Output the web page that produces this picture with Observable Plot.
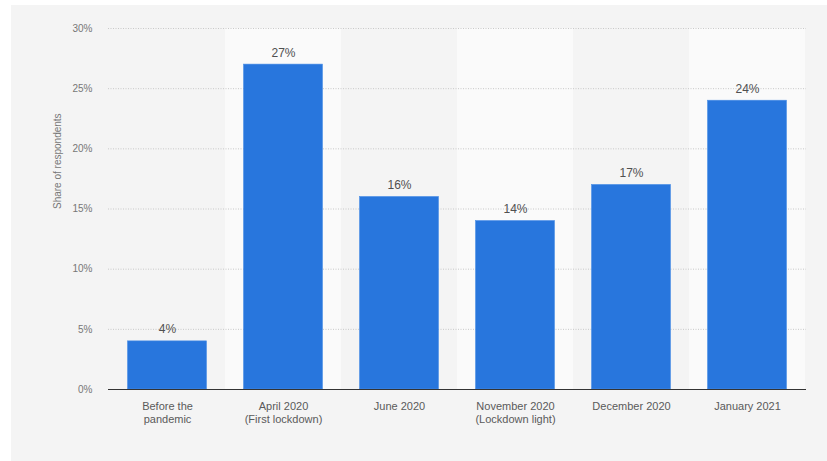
<!DOCTYPE html>
<html>
<head>
<meta charset="utf-8">
<script src="https://cdn.jsdelivr.net/npm/d3@7"></script>
<script src="https://cdn.jsdelivr.net/npm/@observablehq/plot@0.6"></script>
<style>
  html, body { margin: 0; padding: 0; background: #ffffff; }
  #panel { position: absolute; left: 11px; top: 5px; width: 816px; height: 456px; background: #f4f4f4; }
  #panel svg { background: transparent; font-family: "Liberation Sans", Arial, sans-serif; }
</style>
</head>
<body>
<div id="panel"></div>
<script>
const categories = ["Before the\npandemic", "April 2020\n(First lockdown)", "June 2020", "November 2020\n(Lockdown light)", "December 2020", "January 2021"];
const values = [4, 27, 16, 14, 17, 24];
const yTicks = [0, 5, 10, 15, 20, 25, 30];
const yTitle = "Share of respondents";

const data = categories.map((c, i) => ({category: c, value: values[i]}));
const lightBands = categories.filter((c, i) => i % 2 === 1);

const chart = Plot.plot({
  width: 816,
  height: 456,
  marginLeft: 97,
  marginRight: 21,
  marginTop: 23,
  marginBottom: 72,
  style: {background: "transparent", fontFamily: "Liberation Sans, Arial, sans-serif"},
  x: {domain: categories, padding: 0},
  y: {domain: [0, 30]},
  marks: [
    Plot.cell(lightBands, {x: d => d, fill: "#fafafa", inset: 0}),
    Plot.ruleY(yTicks.filter(t => t > 0), {stroke: "#c8c8c8", strokeWidth: 1, strokeDasharray: "1,1.5"}),
    Plot.barY(data, {x: "category", y: "value", fill: "#2876dd", stroke: "#4c8fe6", strokeWidth: 0.6, insetLeft: 18.5, insetRight: 18.5}),
    Plot.ruleY([0], {stroke: "#333333", strokeWidth: 1.2}),
    Plot.text(data, {x: "category", y: "value", text: d => d.value + "%", lineAnchor: "bottom", dy: -8, fontSize: 12, fill: "#505050"}),
    Plot.axisY({ticks: yTicks, tickFormat: d => d + "%", tickSize: 0, tickPadding: 16, fontSize: 10, color: "#777777", label: null}),
    Plot.axisX({tickSize: 0, tickPadding: 12, fontSize: 11, color: "#5a5a5a", label: null, lineHeight: 1.15}),
    Plot.text([yTitle], {frameAnchor: "left", dx: -51, rotate: -90, fontSize: 10, fill: "#777777"})
  ]
});
document.getElementById("panel").appendChild(chart);
</script>
</body>
</html>
